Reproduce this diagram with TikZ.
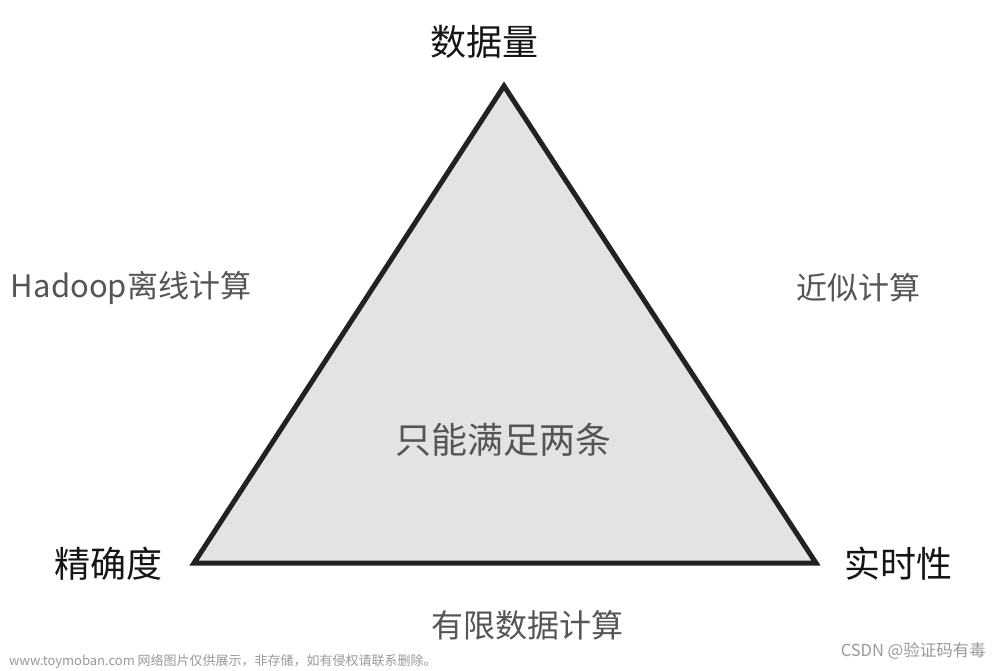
\documentclass[tikz,border=0pt]{standalone}
\usepackage{fontspec}
\setmainfont{Noto Sans CJK SC}
\definecolor{trifill}{HTML}{E2E3E5}
\definecolor{tristroke}{HTML}{222222}
\definecolor{darktxt}{HTML}{151515}
\definecolor{graytxt}{HTML}{555555}
\definecolor{wmtxt}{HTML}{9A9A9A}
\tikzset{
  corner/.style={text=darktxt, font=\fontsize{36}{40}\selectfont, inner sep=0pt},
  side/.style={text=graytxt, font=\fontsize{31}{36}\selectfont, inner sep=0pt},
  mid/.style={text=graytxt, font=\fontsize{36}{40}\selectfont, inner sep=0pt},
  wm/.style={text=wmtxt, inner sep=0pt}
}
\begin{document}
\begin{tikzpicture}[x=1pt,y=-1pt]
\useasboundingbox[fill=white] (0,0) rectangle (1000,670);
\coordinate (A) at (504,86);
\coordinate (B) at (194,563);
\coordinate (C) at (816,563);
\draw[fill=trifill, draw=tristroke, line width=5pt, line join=miter] (A) -- (B) -- (C) -- cycle;
\node[corner] (top) at (484,42) {数据量};
\node[corner] (left) at (108,564) {精确度};
\node[corner] (right) at (898,564) {实时性};
\node[side] (hadoop) at (131,288) {Hadoop离线计算};
\node[side] (approx) at (858,288) {近似计算};
\node[mid] (center) at (503,440) {只能满足两条};
\node[side, font=\fontsize{32}{36}\selectfont] (limited) at (527,625) {有限数据计算};
\node[wm, anchor=west, font=\fontsize{13}{15}\selectfont] (wm1) at (9,661) {www.toymoban.com 网络图片仅供展示，非存储，如有侵权请联系删除。};
\node[wm, anchor=east, font=\fontsize{16.5}{20}\selectfont] (wm2) at (986,651) {CSDN @验证码有毒};
\end{tikzpicture}
\end{document}
